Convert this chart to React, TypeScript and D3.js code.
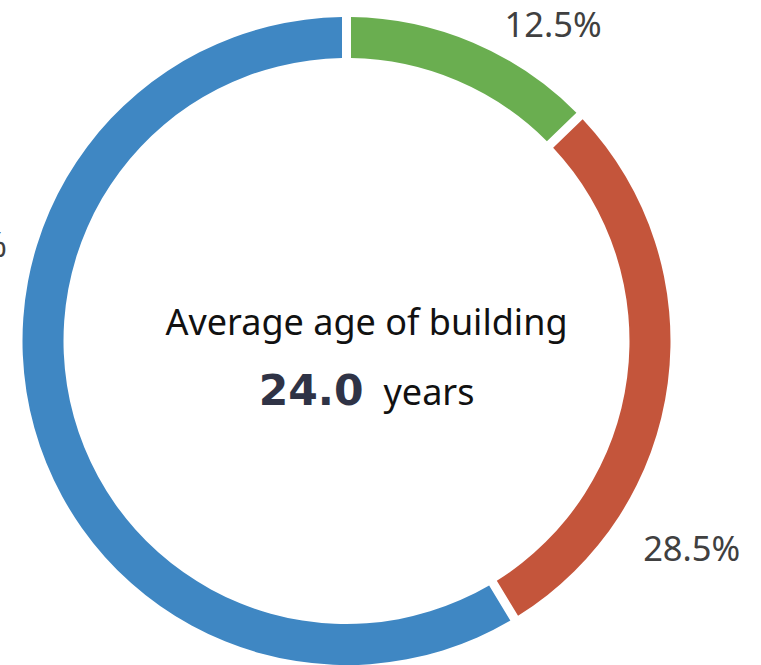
import React from "react";
import * as d3 from "d3";

const categories = ["Under 10 years", "10 to 20 years", "Over 20 years"];
const shares = [12.5, 28.5, 59.0];
const colors = ["#6aae50", "#c4553b", "#3f87c3"];
const labelFrac = [0.72, 0.73, 0.64];
const labelRadius = [378, 403, 400];
const centerTitle = "Average age of building";
const centerValue = "24.0";
const centerUnit = "years";

const W = 761;
const H = 665;

export default function App() {
  const cx = 346.5;
  const cy = 341;
  const rOuter = 324;
  const rInner = 283;
  const gap = 9;

  const pie = d3
    .pie<number>()
    .sort(null)
    .value((d) => d)
    .padAngle(gap / rOuter);
  const arcs = pie(shares);
  const arc = d3
    .arc<d3.PieArcDatum<number>>()
    .innerRadius(rInner)
    .outerRadius(rOuter)
    .padRadius(rOuter);

  const fmt = d3.format(".1f");
  const labelFont = 34.5;
  const textCx = cx + 20;

  return (
    <svg
      width={W}
      height={H}
      style={{ position: "absolute", left: 0, top: 0 }}
      viewBox={`0 0 ${W} ${H}`}
    >
      <rect width={W} height={H} fill="#ffffff" />
      <g transform={`translate(${cx},${cy})`}>
        {arcs.map((a, i) => (
          <path key={categories[i]} d={arc(a) || ""} fill={colors[i]} />
        ))}
        {arcs.map((a, i) => {
          const ang = a.startAngle + labelFrac[i] * (a.endAngle - a.startAngle);
          const r = labelRadius[i];
          const x = Math.sin(ang) * r;
          const y = -Math.cos(ang) * r;
          return (
            <text
              key={"l" + i}
              x={x}
              y={y + labelFont * 0.357}
              textAnchor="middle"
              fontFamily="'Noto Sans', sans-serif"
              fontSize={labelFont}
              fill="#404040"
            >
              {fmt(shares[i])}%
            </text>
          );
        })}
      </g>
      <text
        x={textCx}
        y={335}
        textAnchor="middle"
        fontFamily="'Noto Sans', sans-serif"
        fontSize={36}
        fill="#111111"
      >
        {centerTitle}
      </text>
      <text
        x={textCx - 3}
        y={405}
        textAnchor="end"
        fontFamily="'DejaVu Sans', sans-serif"
        fontWeight="bold"
        fontSize={42.5}
        fill="#2f3346"
      >
        {centerValue}
      </text>
      <text
        x={textCx + 17}
        y={405}
        textAnchor="start"
        fontFamily="'Noto Sans', sans-serif"
        fontSize={36}
        fill="#111111"
      >
        {centerUnit}
      </text>
    </svg>
  );
}
